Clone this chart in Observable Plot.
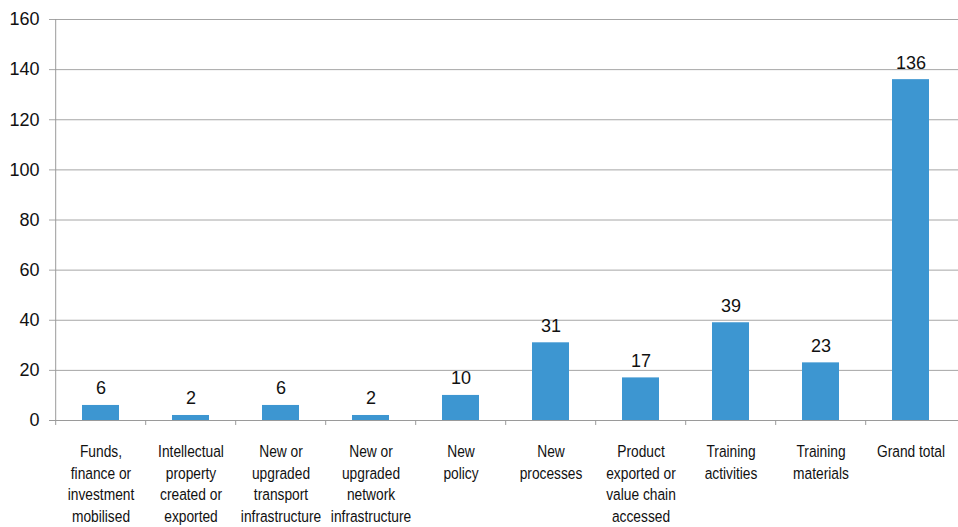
<!DOCTYPE html>
<html>
<head>
<meta charset="utf-8">
<script src="https://cdn.jsdelivr.net/npm/d3@7"></script>
<script src="https://cdn.jsdelivr.net/npm/@observablehq/plot@0.6"></script>
<style>
  html, body { margin: 0; padding: 0; background: #fff; }
</style>
</head>
<body>
<div id="chart"></div>
<script>
const categories = [
  "Funds,\nfinance or\ninvestment\nmobilised",
  "Intellectual\nproperty\ncreated or\nexported",
  "New or\nupgraded\ntransport\ninfrastructure",
  "New or\nupgraded\nnetwork\ninfrastructure",
  "New\npolicy",
  "New\nprocesses",
  "Product\nexported or\nvalue chain\naccessed",
  "Training\nactivities",
  "Training\nmaterials",
  "Grand total"
];
const values = [6, 2, 6, 2, 10, 31, 17, 39, 23, 136];
const yTicks = [0, 20, 40, 60, 80, 100, 120, 140, 160];

const data = categories.map((c, i) => ({category: c, value: values[i]}));
const W = 958, H = 527, ML = 52, MR = 0;
const step = (W - ML - MR) / categories.length;
const SX = 0.81;

const chart = Plot.plot({
  width: W,
  height: H,
  marginLeft: ML,
  marginRight: MR,
  marginTop: 19,
  marginBottom: 107,
  style: {fontFamily: "'Liberation Sans', Arial, sans-serif", background: "#fff"},
  x: {type: "band", domain: categories, paddingInner: 0.59, paddingOuter: 0.295, axis: null},
  y: {domain: [0, 160], ticks: yTicks, axis: null},
  marks: [
    Plot.gridY(yTicks, {stroke: "#a6a6a6", strokeOpacity: 1, insetLeft: -3}),
    Plot.axisY(yTicks, {tickSize: 0, tickPadding: 13, fontSize: 18, fill: "#111", label: null, tickFormat: d => d}),
    Plot.barY(data, {x: "category", y: "value", fill: "#3d96d1"}),
    Plot.ruleY([0], {stroke: "#9a9a9a", insetLeft: -3}),
    Plot.ruleX([categories[0]], {x: d => d, y1: 0, y2: 160, dx: -step / 2, stroke: "#9a9a9a"}),
    Plot.ruleX(categories, {x: d => d, y1: 0, y2: 0, dx: -step / 2, insetBottom: -5, stroke: "#9a9a9a"}),
    Plot.text(data, {x: "category", y: "value", text: d => String(d.value), lineAnchor: "bottom", dy: -11, fontSize: 18, fill: "#111"}),
    Plot.text(data, {x: "category", y: 0, text: "category", lineAnchor: "top", dy: 21, lineHeight: 1.28, fontSize: 17, fill: "#111"})
  ]
});
// condense category labels horizontally (reference uses a condensed face)
const flat = new Set(categories.map(c => c.replace(/\n/g, "")));
d3.select(chart).selectAll("text").each(function() {
  if (!flat.has(this.textContent.replace(/\n/g, ""))) return;
  const t = this.getAttribute("transform");
  if (t) {
    this.setAttribute("transform", t + ` scale(${SX},1)`);
  } else {
    const x = +this.getAttribute("x") || 0;
    this.setAttribute("transform", `translate(${x * (1 - SX)},0) scale(${SX},1)`);
  }
});
document.getElementById("chart").appendChild(chart);
</script>
</body>
</html>
